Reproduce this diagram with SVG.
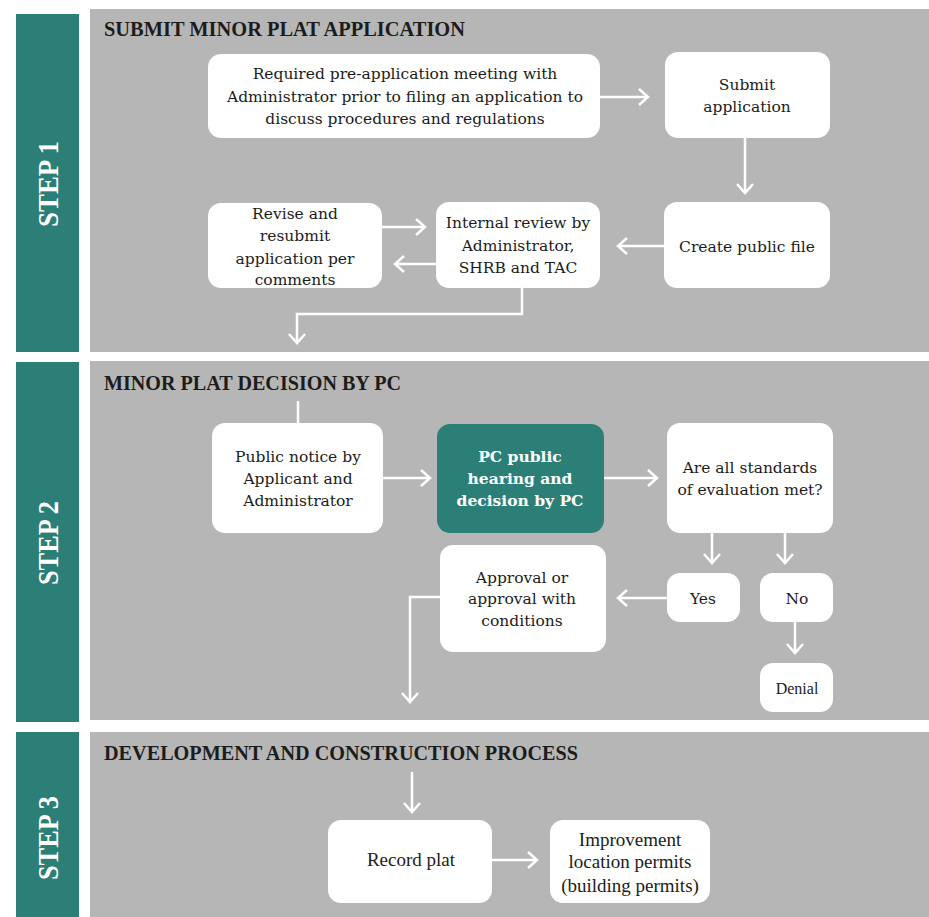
<svg xmlns="http://www.w3.org/2000/svg" width="929" height="917" viewBox="0 0 929 917">
<defs>
<marker id="chev" viewBox="-11 -10 13 20" refX="0" refY="0" markerWidth="13" markerHeight="20" markerUnits="userSpaceOnUse" orient="auto">
<path d="M-9,-8 L0,0 L-9,8" fill="none" stroke="#ffffff" stroke-width="2.5"/>
</marker>
</defs>
<style>
.panel{fill:#b6b6b6}
.bar{fill:#2c7f77}
.box{fill:#ffffff}
.tbox{fill:#2c7f77}
.t{font-family:"DejaVu Serif","Liberation Serif",serif;font-size:15.5px;fill:#1c1c1c;text-anchor:middle}
.tn{font-family:"Liberation Serif","DejaVu Serif",serif;font-size:19px;fill:#1c1c1c;text-anchor:middle}
.tw{font-family:"DejaVu Serif","Liberation Serif",serif;font-size:15.5px;font-weight:bold;fill:#ffffff;text-anchor:middle}
.h{font-family:"Liberation Serif","DejaVu Serif",serif;font-size:21px;font-weight:bold;fill:#1c1c1c}
.step{font-family:"Liberation Serif","DejaVu Serif",serif;font-size:30px;font-weight:bold;fill:#ffffff;text-anchor:middle}
.c{fill:none;stroke:#ffffff;stroke-width:2.5}
.a{marker-end:url(#chev)}
</style>
<rect width="929" height="917" fill="#ffffff"/>
<g id="backgrounds">
<rect class="panel" x="90" y="9" width="839" height="343"/>
<rect class="panel" x="90" y="361" width="839" height="359"/>
<rect class="panel" x="90" y="732" width="839" height="185"/>
</g>
<g id="step1">
<rect class="bar" x="16" y="14" width="63" height="338"/>
<text class="step" transform="translate(48,184) rotate(-90)" y="10" textLength="86" lengthAdjust="spacingAndGlyphs">STEP 1</text>
<text class="h" x="104" y="36" textLength="361" lengthAdjust="spacingAndGlyphs">SUBMIT MINOR PLAT APPLICATION</text>
</g>
<g id="step2">
<rect class="bar" x="16" y="362" width="63" height="360"/>
<text class="step" transform="translate(48,543) rotate(-90)" y="10" textLength="84" lengthAdjust="spacingAndGlyphs">STEP 2</text>
<text class="h" x="104" y="390" textLength="297" lengthAdjust="spacingAndGlyphs">MINOR PLAT DECISION BY PC</text>
</g>
<g id="step3">
<rect class="bar" x="16" y="732" width="63" height="185"/>
<text class="step" transform="translate(48,838) rotate(-90)" y="10" textLength="84" lengthAdjust="spacingAndGlyphs">STEP 3</text>
<text class="h" x="104" y="760" textLength="474" lengthAdjust="spacingAndGlyphs">DEVELOPMENT AND CONSTRUCTION PROCESS</text>
</g>
<g id="connectors">
<path class="c a" d="M600,97 L648,97"/>
<path class="c a" d="M745,138 L745,193"/>
<path class="c a" d="M665,246 L618,246"/>
<path class="c a" d="M382,227 L425,227"/>
<path class="c a" d="M436,264 L395,264"/>
<path class="c a" d="M522,288 L522,314 L297,314 L297,343"/>
<path class="c" d="M298,401 L298,423"/>
<path class="c a" d="M383,478 L430,478"/>
<path class="c a" d="M604,478 L657,478"/>
<path class="c a" d="M712,533 L712,563"/>
<path class="c a" d="M785,533 L785,563"/>
<path class="c a" d="M667,598 L618,598"/>
<path class="c a" d="M440,597 L410,597 L410,702"/>
<path class="c a" d="M795,622 L795,653"/>
<path class="c a" d="M412,772 L412,812"/>
<path class="c a" d="M492,860 L537,860"/>
</g>
<g id="n-preapp">
<rect class="box" x="208" y="54" width="392" height="84" rx="13"/>
<text class="t" x="405" y="79">Required pre-application meeting with</text>
<text class="t" x="405" y="102">Administrator prior to filing an application to</text>
<text class="t" x="405" y="124">discuss procedures and regulations</text>
</g>
<g id="n-submit">
<rect class="box" x="665" y="52" width="165" height="86" rx="13"/>
<text class="t" x="747" y="90">Submit</text>
<text class="t" x="747" y="112">application</text>
</g>
<g id="n-create">
<rect class="box" x="664" y="202" width="166" height="86" rx="13"/>
<text class="t" x="747" y="252">Create public file</text>
</g>
<g id="n-internal">
<rect class="box" x="436" y="202" width="164" height="86" rx="13"/>
<text class="t" x="518" y="228">Internal review by</text>
<text class="t" x="518" y="251">Administrator,</text>
<text class="t" x="518" y="273">SHRB and TAC</text>
</g>
<g id="n-revise">
<rect class="box" x="208" y="203" width="174" height="85" rx="13"/>
<text class="t" x="295" y="219">Revise and</text>
<text class="t" x="295" y="241">resubmit</text>
<text class="t" x="295" y="264">application per</text>
<text class="t" x="295" y="285">comments</text>
</g>
<g id="n-notice">
<rect class="box" x="212" y="423" width="171" height="110" rx="13"/>
<text class="t" x="298" y="462">Public notice by</text>
<text class="t" x="298" y="484">Applicant and</text>
<text class="t" x="298" y="506">Administrator</text>
</g>
<g id="n-hearing">
<rect class="tbox" x="437" y="424" width="167" height="109" rx="13"/>
<text class="tw" x="520" y="462">PC public</text>
<text class="tw" x="520" y="484">hearing and</text>
<text class="tw" x="520" y="506">decision by PC</text>
</g>
<g id="n-standards">
<rect class="box" x="667" y="423" width="166" height="110" rx="13"/>
<text class="t" x="750" y="473">Are all standards</text>
<text class="t" x="750" y="495">of evaluation met?</text>
</g>
<g id="n-yes">
<rect class="box" x="667" y="573" width="73" height="49" rx="13"/>
<text class="t" x="703" y="604">Yes</text>
</g>
<g id="n-no">
<rect class="box" x="760" y="573" width="73" height="49" rx="13"/>
<text class="t" x="797" y="604">No</text>
</g>
<g id="n-approval">
<rect class="box" x="440" y="545" width="166" height="107" rx="13"/>
<text class="t" x="522" y="583">Approval or</text>
<text class="t" x="522" y="604">approval with</text>
<text class="t" x="522" y="626">conditions</text>
</g>
<g id="n-denial">
<rect class="box" x="760" y="663" width="73" height="49" rx="13"/>
<text class="tn" x="797" y="694" style="font-size:16px">Denial</text>
</g>
<g id="n-record">
<rect class="box" x="328" y="820" width="164" height="83" rx="13"/>
<text class="tn" x="411" y="866">Record plat</text>
</g>
<g id="n-improvement">
<rect class="box" x="550" y="820" width="160" height="83" rx="13"/>
<text class="tn" x="630" y="846">Improvement</text>
<text class="tn" x="630" y="868">location permits</text>
<text class="tn" x="630" y="892">(building permits)</text>
</g>
</svg>
